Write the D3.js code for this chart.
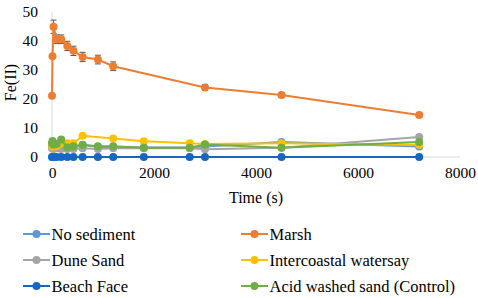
<!DOCTYPE html>
<html>
<head>
<meta charset="utf-8">
<script src="https://cdn.jsdelivr.net/npm/d3@7"></script>
<style>
body { margin: 0; background: #fff; }
svg text { font-family: 'Liberation Serif', 'Times New Roman', 'DejaVu Serif', serif !important; fill: #000; }
</style>
</head>
<body>
<div id="chart"></div>
<script>
// data
const times = [0, 10, 30, 90, 180, 300, 420, 600, 900, 1200, 1800, 2700, 3000, 4500, 7200];
const noSediment = [3.5, 3.8, 4.0, 3.5, 3.5, 3.3, 3.5, 4.2, 3.5, 3.3, 3.3, 3.4, 3.6, 5.2, 3.6];
const marsh      = [21.1, 34.7, 44.9, 40.6, 40.6, 38.3, 36.6, 34.5, 33.6, 31.3, null, null, 24.0, 21.4, 14.5];
const marshErr   = [0, 0, 2.3, 1.5, 1.5, 1.6, 1.6, 1.6, 1.5, 1.5, null, null, 1.0, 0.8, 0];
const duneSand   = [3.0, 3.0, 2.8, 3.0, 2.8, 2.8, 2.8, 3.0, 2.8, 3.0, 3.0, 3.0, 2.7, 3.2, 6.9];
const intercoastal = [4.5, 3.5, 3.8, 3.8, 4.7, 4.7, 4.7, 7.3, null, 6.4, 5.4, 4.7, 4.5, 4.7, 4.1];
const beachFace  = [0, 0, 0, 0, 0, 0, 0, 0, 0, 0, 0, 0, 0, 0, 0];
const acidWashed = [4.7, 5.5, 4.2, 4.5, 6.0, 3.3, 3.7, 4.1, 3.7, 3.7, 3.2, 3.2, 4.3, 3.2, 5.2];

const seriesNames = ["No sediment", "Marsh", "Dune Sand", "Intercoastal watersay", "Beach Face", "Acid washed sand (Control)"];
const seriesValues = [noSediment, marsh, duneSand, intercoastal, beachFace, acidWashed];
const colors = ["#5B9BD5", "#ED7D31", "#A5A5A5", "#FFC000", "#1567C3", "#70AD47"];
const xTicks = [0, 2000, 4000, 6000, 8000];
const yTicks = [0, 10, 20, 30, 40, 50];

const width = 478, height = 298;
const margin = {top: 12, right: 18, bottom: 141, left: 52};
const w = width - margin.left - margin.right,
      h = height - margin.top - margin.bottom;

const svg = d3.select("#chart").append("svg")
  .attr("width", width)
  .attr("height", height);

const g = svg.append("g")
  .attr("transform", `translate(${margin.left},${margin.top})`);

const x = d3.scaleLinear().domain([0, 8000]).range([0, w]);
const y = d3.scaleLinear().domain([0, 50]).range([h, 0]);

// axis lines
g.append("line")
  .attr("x1", 0).attr("x2", w)
  .attr("y1", y(0)).attr("y2", y(0))
  .attr("stroke", "#d9d9d9").attr("stroke-width", 1);
g.append("line")
  .attr("x1", 0).attr("x2", 0)
  .attr("y1", y(0)).attr("y2", y(50))
  .attr("stroke", "#d9d9d9").attr("stroke-width", 1);

// tick labels
const xAxis = g.append("g")
  .attr("transform", `translate(0,${h})`)
  .call(d3.axisBottom(x).tickValues(xTicks).tickFormat(d3.format("d")).tickSize(0).tickPadding(10));
const yAxis = g.append("g")
  .call(d3.axisLeft(y).tickValues(yTicks).tickFormat(d3.format("d")).tickSize(0).tickPadding(14));
[xAxis, yAxis].forEach(a => {
  a.select(".domain").remove();
  a.selectAll("text").attr("font-size", 15.5);
});

// axis titles
g.append("text")
  .attr("text-anchor", "middle")
  .attr("x", w / 2)
  .attr("y", h + 46)
  .attr("font-size", 16)
  .text("Time (s)");
g.append("text")
  .attr("text-anchor", "middle")
  .attr("transform", "rotate(-90)")
  .attr("x", -h / 2 + 2)
  .attr("y", -36)
  .attr("font-size", 16)
  .text("Fe(II)");

const line = d3.line()
  .x(d => x(d.t))
  .y(d => y(d.v));

seriesValues.forEach((vals, i) => {
  const pts = times.map((t, j) => ({t: t, v: vals[j], e: i === 1 ? marshErr[j] : 0}))
    .filter(d => d.v !== null);

  const sg = g.append("g");

  // error bars (Marsh only)
  if (i === 1) {
    const eb = sg.selectAll(".err")
      .data(pts.filter(d => d.e > 0))
      .join("g");
    eb.append("line")
      .attr("x1", d => x(d.t)).attr("x2", d => x(d.t))
      .attr("y1", d => y(d.v - d.e)).attr("y2", d => y(d.v + d.e))
      .attr("stroke", "#595959").attr("stroke-width", 1);
    [-1, 1].forEach(s => {
      eb.append("line")
        .attr("x1", d => x(d.t) - 3).attr("x2", d => x(d.t) + 3)
        .attr("y1", d => y(d.v + s * d.e)).attr("y2", d => y(d.v + s * d.e))
        .attr("stroke", "#595959").attr("stroke-width", 1);
    });
  }

  sg.append("path")
    .datum(pts)
    .attr("fill", "none")
    .attr("stroke", colors[i])
    .attr("stroke-width", 2)
    .attr("d", line);

  sg.selectAll("circle")
    .data(pts)
    .join("circle")
    .attr("cx", d => x(d.t))
    .attr("cy", d => y(d.v))
    .attr("r", 4)
    .attr("fill", colors[i]);
});

// legend
const legend = svg.append("g")
  .selectAll("g")
  .data(seriesNames)
  .join("g")
  .attr("transform", (d, i) => `translate(${i % 2 === 0 ? 23 : 241},${234 + Math.floor(i / 2) * 26})`);

legend.append("line")
  .attr("x1", 0).attr("x2", 27)
  .attr("stroke", (d, i) => colors[i])
  .attr("stroke-width", 2);
legend.append("circle")
  .attr("cx", 13.5)
  .attr("r", 4)
  .attr("fill", (d, i) => colors[i]);
legend.append("text")
  .attr("x", 28.5)
  .attr("dy", "0.35em")
  .attr("font-size", 16.5)
  .text(d => d);
</script>
</body>
</html>
